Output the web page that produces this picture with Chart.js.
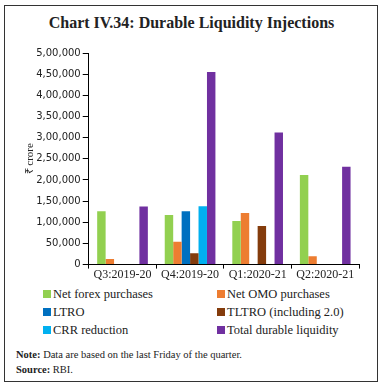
<!DOCTYPE html>
<html>
<head>
<meta charset="utf-8">
<script src="https://cdn.jsdelivr.net/npm/chart.js@4/dist/chart.umd.min.js"></script>
<style>
  html, body { margin:0; padding:0; background:#fff; }
  body { width:383px; height:386px; position:relative; overflow:hidden; font-family:"Liberation Serif", serif; color:#222; }
  #frame { position:absolute; left:4px; top:5px; width:372px; height:375px; border:1.2px solid #333; }
  #title { position:absolute; left:0; width:383px; top:14px; text-align:center; font-weight:bold; font-size:16px; color:#222; font-family:"Liberation Serif", serif; }
  #wrap { position:absolute; left:0; top:40px; width:383px; height:241px; }
  #legend { position:absolute; left:0; top:287px; width:383px; }
  .li { position:absolute; font-size:12.5px; white-space:nowrap; color:#222; font-family:"Liberation Serif", serif; }
  .sw { display:inline-block; width:8px; height:8px; margin-right:2px; vertical-align:0px; }
  #note { position:absolute; left:16px; top:347px; font-size:10.5px; line-height:15px; color:#222; font-family:"Liberation Serif", serif; }
</style>
</head>
<body>
<div id="frame"></div>
<div id="title">Chart IV.34: Durable Liquidity Injections</div>
<div id="wrap"><canvas id="c" width="383" height="241"></canvas></div>
<div id="legend"></div>
<div id="note"><b>Note:</b> Data are based on the last Friday of the quarter.<br><b>Source:</b> RBI.</div>
<script>
const categories = ['Q3:2019-20', 'Q4:2019-20', 'Q1:2020-21', 'Q2:2020-21'];
const netForex = [126000, 117000, 103000, 212000];
const netOMO = [13000, 54000, 122000, 20000];
const ltro = [null, 126000, null, null];
const tltro = [null, 27000, 91000, null];
const crr = [null, 138000, null, null];
const totalDurable = [137000, 455000, 312000, 231000];
const seriesNames = ['Net forex purchases', 'Net OMO purchases', 'LTRO', 'TLTRO (including 2.0)', 'CRR reduction', 'Total durable liquidity'];
const seriesColors = ['#92D050', '#ED7D31', '#0070C0', '#843C0C', '#00B0F0', '#7030A0'];
const yTickLabels = ['0', '50,000', '1,00,000', '1,50,000', '2,00,000', '2,50,000', '3,00,000', '3,50,000', '4,00,000', '4,50,000', '5,00,000'];

const seriesData = [netForex, netOMO, ltro, tltro, crr, totalDurable];
const datasets = seriesData.map((d, i) => ({
  label: seriesNames[i],
  data: d,
  backgroundColor: seriesColors[i],
  borderWidth: 0,
  categoryPercentage: 0.75,
  barPercentage: 1.0
}));

new Chart(document.getElementById('c'), {
  type: 'bar',
  data: { labels: categories, datasets },
  options: {
    responsive: false,
    animation: false,
    layout: { padding: { left: 2, right: 24, top: 13, bottom: 0 } },
    plugins: { legend: { display: false }, tooltip: { enabled: false } },
    scales: {
      x: {
        grid: { display: true, drawOnChartArea: false, drawTicks: true, tickLength: 4, color: '#000', offset: true },
        border: { display: true, color: '#000', width: 1 },
        ticks: { font: { family: "'Liberation Serif', serif", size: 12 }, color: '#222', padding: -1, maxRotation: 0 }
      },
      y: {
        min: 0, max: 500000,
        grid: { display: true, drawOnChartArea: false, drawTicks: true, tickLength: 6, color: '#000' },
        border: { display: true, color: '#000', width: 1 },
        ticks: {
          stepSize: 50000,
          font: { family: "'DejaVu Sans', sans-serif", size: 10 },
          color: '#222',
          padding: 2,
          callback: (v, i) => yTickLabels[i]
        },
        title: { display: true, text: '₹ crore', font: { family: "'Liberation Serif', serif", size: 11 }, color: '#222', padding: { top: 22, bottom: -3 } }
      }
    }
  }
});

const leg = document.getElementById('legend');
const pos = [[43, 0], [217, 0], [43, 18], [217, 18], [43, 36], [217, 36]];
seriesNames.forEach((n, i) => {
  const d = document.createElement('div');
  d.className = 'li';
  d.style.left = pos[i][0] + 'px';
  d.style.top = pos[i][1] + 'px';
  d.innerHTML = '<span class="sw" style="background:' + seriesColors[i] + '"></span>' + n;
  leg.appendChild(d);
});
</script>
</body>
</html>
